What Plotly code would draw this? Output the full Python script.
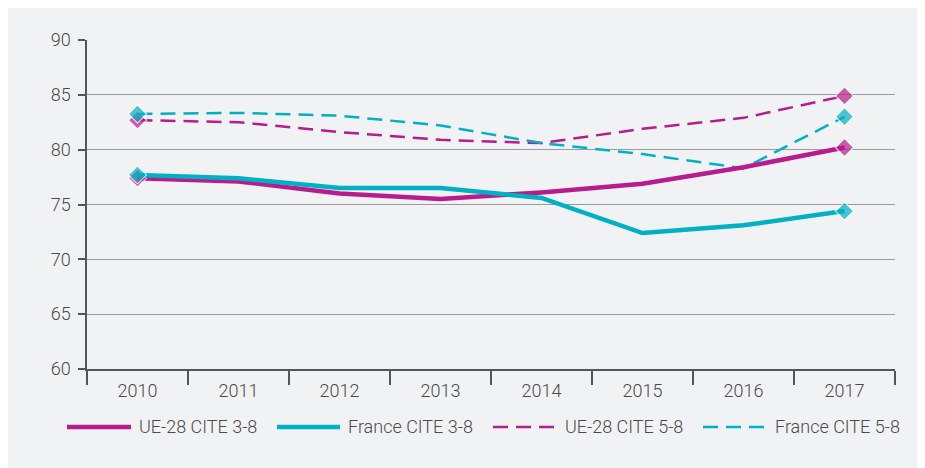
import plotly.graph_objects as go

years = ["2010", "2011", "2012", "2013", "2014", "2015", "2016", "2017"]
ue_3_8 = [77.4, 77.1, 76.0, 75.5, 76.1, 76.9, 78.4, 80.2]
fr_3_8 = [77.7, 77.4, 76.5, 76.5, 75.6, 72.4, 73.1, 74.4]
ue_5_8 = [82.7, 82.5, 81.6, 80.9, 80.6, 81.9, 82.9, 84.9]
fr_5_8 = [83.25, 83.35, 83.1, 82.2, 80.6, 79.6, 78.3, 83.0]
series_names = ["UE-28 CITE 3-8", "France CITE 3-8", "UE-28 CITE 5-8", "France CITE 5-8"]

MAGENTA = "#b81c8c"
CYAN = "#00b0c3"
TEXT = "#4a4a4a"
BG = "#f1f2f4"

OFF = 8  # page body margin
W, H = 925, 468
L, R, T, B = 87 - OFF, W - (895 - OFF), 39.5 - OFF, H - (369 - OFF)
PW, PH = W - L - R, H - T - B

msizes = [14] + [0] * (len(years) - 2) + [14]

def trace(y, name, color, width, dash):
    return go.Scatter(
        x=years, y=y, name=name, mode="lines+markers",
        line=dict(color=color, width=width, dash=dash),
        marker=dict(symbol="diamond", size=msizes, color=color,
                    line=dict(color="white", width=1.2)),
        showlegend=False, hoverinfo="x+y+name",
    )

fig = go.Figure()
fig.add_trace(trace(ue_5_8, series_names[2], MAGENTA, 2.5, "15px,8px"))
fig.add_trace(trace(fr_5_8, series_names[3], CYAN, 2.5, "15px,8px"))
fig.add_trace(trace(ue_3_8, series_names[0], MAGENTA, 4.5, "solid"))
fig.add_trace(trace(fr_3_8, series_names[1], CYAN, 4.5, "solid"))

def px_x(p):
    return (p - OFF - L) / PW

def px_y(p):
    return (H - B - (p - OFF)) / PH

shapes = []
annotations = []
legend_items = [
    (67, 131, 139, series_names[0], MAGENTA, 4.5, "solid"),
    (277, 340, 348, series_names[1], CYAN, 4.5, "solid"),
    (493, 556, 565, series_names[2], MAGENTA, 2.5, "15px,8px"),
    (703, 766, 775, series_names[3], CYAN, 2.5, "15px,8px"),
]
ly = 427
for x0, x1, tx, name, color, w, dash in legend_items:
    shapes.append(dict(type="line", xref="paper", yref="paper",
                       x0=px_x(x0), x1=px_x(x1), y0=px_y(ly), y1=px_y(ly),
                       line=dict(color=color, width=w, dash=dash)))
    annotations.append(dict(xref="paper", yref="paper", x=px_x(tx - 2), y=px_y(ly),
                            text=name, showarrow=False, xanchor="left", yanchor="middle",
                            font=dict(family="Roboto", size=18, color=TEXT, weight=300)))

tickfont = dict(family="Roboto", size=18, color=TEXT, weight=300)

fig.update_layout(
    width=W, height=H,
    margin=dict(l=L, r=R, t=T, b=B),
    paper_bgcolor=BG, plot_bgcolor=BG,
    font=dict(family="Roboto", size=18, color=TEXT),
    shapes=shapes, annotations=annotations,
    showlegend=False,
    xaxis=dict(type="category", tickson="boundaries", ticks="outside", ticklen=14,
               tickcolor="#555", tickwidth=1.5, showgrid=False, tickfont=tickfont,
               ticklabelstandoff=5,
               showline=True, linecolor="#555", linewidth=1.5,
               range=[-0.5, 7.5], fixedrange=True),
    yaxis=dict(range=[60, 90], dtick=5, ticks="outside", ticklen=7,
               tickcolor="#555", tickwidth=1.5, showgrid=True, gridcolor="#9a9a9a",
               gridwidth=1.2, showline=True, linecolor="#555", linewidth=1.5,
               ticklabelstandoff=4,
               tickfont=tickfont, zeroline=False, fixedrange=True),
)

fig.write_html("out.html")
